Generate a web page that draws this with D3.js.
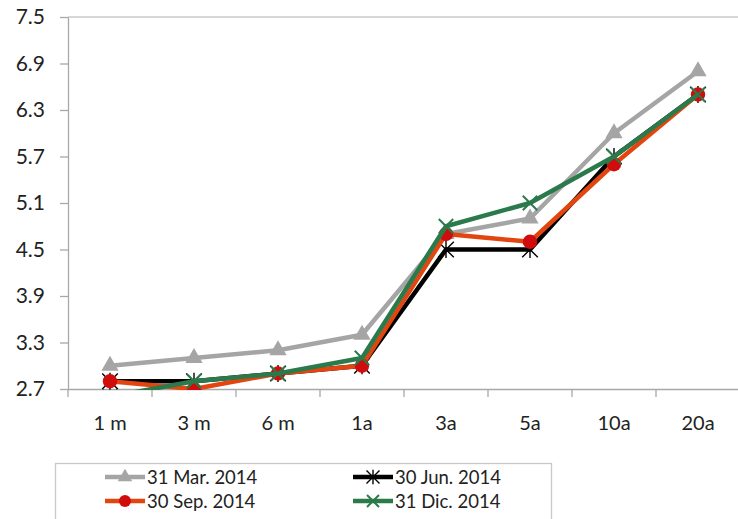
<!DOCTYPE html>
<html>
<head>
<meta charset="utf-8">
<script src="https://cdn.jsdelivr.net/npm/d3@7"></script>
<style>
  html, body { margin: 0; padding: 0; background: #fff; }
  svg { display: block; font-family: Lato, "Open Sans", sans-serif; }
</style>
</head>
<body>
<svg id="chart" width="738" height="519"></svg>
<script>
// Maturities on the horizontal axis
const categories = ["1 m", "3 m", "6 m", "1a", "3a", "5a", "10a", "20a"];
// Yield curves (%) at four dates
const mar2014 = [3.0, 3.1, 3.2, 3.4, 4.7, 4.9, 6.0, 6.8];
const jun2014 = [2.8, 2.8, 2.9, 3.0, 4.5, 4.5, 5.7, 6.5];
const sep2014 = [2.8, 2.7, 2.9, 3.0, 4.7, 4.6, 5.6, 6.5];
const dic2014 = [2.6, 2.8, 2.9, 3.1, 4.8, 5.1, 5.7, 6.5];
const yTicks = [2.7, 3.3, 3.9, 4.5, 5.1, 5.7, 6.3, 6.9, 7.5];
const seriesNames = ["31 Mar. 2014", "30 Jun. 2014", "30 Sep. 2014", "31 Dic. 2014"];

const series = [
  { name: seriesNames[0], values: mar2014, line: "#a5a5a5", fill: "#a5a5a5", marker: "triangle" },
  { name: seriesNames[1], values: jun2014, line: "#000000", fill: "#000000", marker: "star" },
  { name: seriesNames[2], values: sep2014, line: "#e2450f", fill: "#d00c0c", marker: "circle" },
  { name: seriesNames[3], values: dic2014, line: "#2b7a4b", fill: "#2b7a4b", marker: "cross" }
];

const svg = d3.select("#chart");
const plotLeft = 68, plotRight = 740, plotTop = 17, plotBottom = 389;

const x = d3.scaleBand().domain(categories).range([plotLeft, plotRight]);
const y = d3.scaleLinear().domain([2.7, 7.5]).range([plotBottom, plotTop]);

// top boundary line
svg.append("line")
  .attr("x1", plotLeft).attr("x2", 738)
  .attr("y1", y(7.5)).attr("y2", y(7.5))
  .attr("stroke", "#c8c8c8").attr("stroke-width", 1.3);

// y axis
const yAxis = svg.append("g")
  .attr("transform", `translate(${plotLeft},0)`)
  .call(d3.axisLeft(y).tickValues(yTicks).tickFormat(d3.format(".1f")).tickSize(8).tickSizeOuter(0).tickPadding(15));
yAxis.select(".domain").attr("stroke", "#a8a8a8").attr("stroke-width", 1.3);
yAxis.selectAll(".tick line").attr("stroke", "#a8a8a8").attr("stroke-width", 1.3);
yAxis.selectAll("text").attr("font-size", 21).attr("fill", "#222").attr("font-family", "Lato, sans-serif");

// x axis
const xAxis = svg.append("g")
  .attr("transform", `translate(0,${plotBottom})`)
  .call(d3.axisBottom(x).tickSize(0).tickPadding(27));
xAxis.select(".domain").attr("stroke", "#a8a8a8").attr("stroke-width", 1.3)
  .attr("d", `M${plotLeft},0.5H${plotRight}`);
xAxis.selectAll("text").attr("font-size", 20).attr("fill", "#222").attr("font-family", "Lato, sans-serif");
// category boundary ticks
const bounds = categories.map(c => x(c)).concat([plotRight]);
svg.append("g").selectAll("line").data(bounds).join("line")
  .attr("x1", d => d).attr("x2", d => d)
  .attr("y1", plotBottom).attr("y2", plotBottom + 8)
  .attr("stroke", "#a8a8a8").attr("stroke-width", 1.3);

// clip to plot area
svg.append("defs").append("clipPath").attr("id", "plotClip")
  .append("rect").attr("x", plotLeft).attr("y", 0).attr("width", 738 - plotLeft).attr("height", plotBottom + 1);

const cx = c => x(c) + x.bandwidth() / 2;
const line = d3.line().x((d, i) => cx(categories[i])).y(d => y(d));

function drawMarker(g, type, color, size) {
  if (type === "triangle") {
    g.append("path").attr("d", d3.symbol(d3.symbolTriangle, size * size * 0.9)()).attr("fill", color);
  } else if (type === "circle") {
    g.append("circle").attr("r", size * 0.6).attr("fill", color);
  } else if (type === "star") {
    const r = size * 0.65;
    g.append("path")
      .attr("d", `M${-r},${-r}L${r},${r}M${-r},${r}L${r},${-r}M0,${-r * 1.1}L0,${r * 1.1}`)
      .attr("stroke", color).attr("stroke-width", 1.4).attr("fill", "none");
  } else if (type === "cross") {
    const r = size * 0.6;
    g.append("path")
      .attr("d", `M${-r},${-r}L${r},${r}M${-r},${r}L${r},${-r}`)
      .attr("stroke", color).attr("stroke-width", 2).attr("fill", "none");
  }
}

const plot = svg.append("g").attr("clip-path", "url(#plotClip)");
series.forEach(s => {
  plot.append("path").datum(s.values)
    .attr("d", line).attr("fill", "none")
    .attr("stroke", s.line).attr("stroke-width", 4.5)
    .attr("stroke-linejoin", "round");
  s.values.forEach((v, i) => {
    const g = plot.append("g").attr("transform", `translate(${cx(categories[i])},${y(v)})`);
    drawMarker(g, s.marker, s.fill, 12);
  });
});

// legend
svg.append("rect")
  .attr("x", 55.5).attr("y", 463.5).attr("width", 496).attr("height", 70)
  .attr("fill", "none").attr("stroke", "#c8c8c8").attr("stroke-width", 1.3);
const legendPos = [[105, 477], [353, 477], [105, 501], [353, 501]];
series.forEach((s, i) => {
  const [lx, ly] = legendPos[i];
  const g = svg.append("g");
  g.append("line").attr("x1", lx).attr("x2", lx + 40).attr("y1", ly).attr("y2", ly)
    .attr("stroke", s.line).attr("stroke-width", 4.5);
  const m = g.append("g").attr("transform", `translate(${lx + 20},${ly})`);
  drawMarker(m, s.marker, s.fill, 10);
  g.append("text").attr("x", lx + 42).attr("y", ly + 7)
    .attr("font-size", 18.5).attr("fill", "#222").text(s.name);
});
</script>
</body>
</html>
